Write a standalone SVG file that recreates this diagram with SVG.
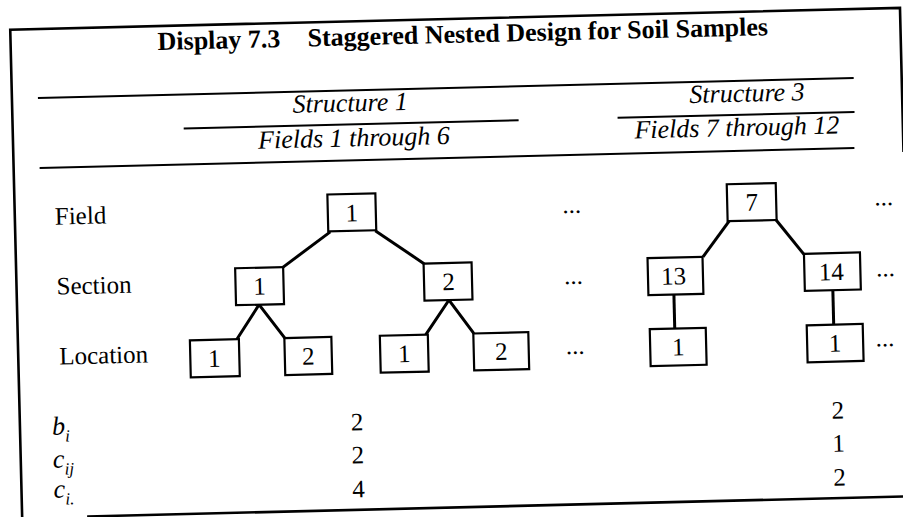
<svg xmlns="http://www.w3.org/2000/svg" width="903" height="517" viewBox="0 0 903 517">
  <style>
    .frame { stroke: #000; stroke-width: 2.6; fill: none; }
    .rule { stroke: #000; stroke-width: 2; fill: none; }
    .box { fill: #fff; stroke: #000; stroke-width: 2.2; }
    .edge { stroke: #000; stroke-width: 3; fill: none; }
    .t { font-family: "Liberation Serif", "Times New Roman", serif; font-size: 25px; fill: #000; }
    .num { text-anchor: middle; }
    .it { font-style: italic; font-size: 26px; }
    .title { font-weight: bold; font-size: 26px; }
    .sub { font-size: 17px; }
  </style>
  <rect width="903" height="517" fill="#fff"/>
  <g transform="rotate(-1.4 450 260)">
    <!-- outer frame -->
    <g id="frame">
      <path class="frame" d="M16 530 V19 H906 V163"/>
      <path class="frame" d="M81 507.5 H915"/>
    </g>

    <!-- heading -->
    <g id="heading">
      <text class="t title" x="163" y="43">Display 7.3</text>
      <text class="t title" x="313" y="43">Staggered Nested Design for Soil Samples</text>
    </g>

    <!-- table rules and column heads -->
    <g id="rules">
      <path class="rule" d="M42 88 H858"/>
      <path class="rule" d="M187 122 H522"/>
      <path class="rule" d="M621 122 H858"/>
      <path class="rule" d="M42 158 H857"/>
    </g>
    <g id="col-heads">
      <text class="t it num" x="354" y="109">Structure 1</text>
      <text class="t it num" x="357" y="144">Fields 1 through 6</text>
      <text class="t it num" x="751" y="109">Structure 3</text>
      <text class="t it num" x="740" y="143">Fields 7 through 12</text>
    </g>

    <!-- row labels -->
    <g id="row-labels">
      <text class="t" x="56" y="215">Field</text>
      <text class="t" x="56" y="285">Section</text>
      <text class="t" x="57" y="355">Location</text>
    </g>

    <!-- connectors -->
    <g id="connectors">
      <path class="edge" d="M331 229 L283 263"/>
      <path class="edge" d="M376 229 L424 263"/>
      <path class="edge" d="M235 334 L258 300 L283 334"/>
      <path class="edge" d="M424 334 L448 300 L472 334"/>
      <path class="edge" d="M730 228 L703 263"/>
      <path class="edge" d="M777 228 L804 263"/>
      <path class="edge" d="M673 300 V334"/>
      <path class="edge" d="M832 300 V334"/>
    </g>

    <!-- structure 1 -->
    <g id="s1-field-1">
      <rect class="box" x="329" y="191.5" width="48" height="37"/>
      <text class="t num" x="353" y="219">1</text>
    </g>
    <g id="s1-section-1">
      <rect class="box" x="235" y="263" width="48" height="37"/>
      <text class="t num" x="259" y="290">1</text>
    </g>
    <g id="s1-section-2">
      <rect class="box" x="423.5" y="263" width="48" height="37"/>
      <text class="t num" x="448" y="290">2</text>
    </g>
    <g id="s1-location-1">
      <rect class="box" x="188" y="334" width="49" height="37"/>
      <text class="t num" x="212" y="361">1</text>
    </g>
    <g id="s1-location-2">
      <rect class="box" x="282.5" y="334" width="47" height="37"/>
      <text class="t num" x="306" y="361">2</text>
    </g>
    <g id="s1-location-3">
      <rect class="box" x="378" y="334" width="48" height="37"/>
      <text class="t num" x="402" y="361">1</text>
    </g>
    <g id="s1-location-4">
      <rect class="box" x="471.5" y="334" width="55" height="37"/>
      <text class="t num" x="499" y="361">2</text>
    </g>

    <!-- structure 3 -->
    <g id="s3-field-7">
      <rect class="box" x="728.5" y="191" width="49" height="37"/>
      <text class="t num" x="753" y="218">7</text>
    </g>
    <g id="s3-section-13">
      <rect class="box" x="647.5" y="263" width="55" height="37"/>
      <text class="t num" x="673" y="290">13</text>
    </g>
    <g id="s3-section-14">
      <rect class="box" x="804" y="262.5" width="56" height="37"/>
      <text class="t num" x="831" y="289.5">14</text>
    </g>
    <g id="s3-location-13-1">
      <rect class="box" x="648" y="334" width="56" height="37"/>
      <text class="t num" x="676" y="361">1</text>
    </g>
    <g id="s3-location-14-1">
      <rect class="box" x="805" y="334" width="56" height="37"/>
      <text class="t num" x="833" y="361">1</text>
    </g>

    <!-- continuation marks -->
    <g id="ellipses">
      <text class="t num" x="573" y="216">...</text>
      <text class="t num" x="573" y="287">...</text>
      <text class="t num" x="573" y="357">...</text>
      <text class="t num" x="885" y="216">...</text>
      <text class="t num" x="885" y="287">...</text>
      <text class="t num" x="883" y="357">...</text>
    </g>

    <!-- counts -->
    <g id="counts">
      <text class="t it" x="48" y="425">b<tspan class="sub" dy="7">i</tspan></text>
      <text class="t it" x="48" y="458">c<tspan class="sub" dy="7">ij</tspan></text>
      <text class="t it" x="48" y="488">c<tspan class="sub" dy="7">i.</tspan></text>
      <text class="t num" x="353" y="428">2</text>
      <text class="t num" x="353" y="461">2</text>
      <text class="t num" x="353" y="495">4</text>
      <text class="t num" x="834" y="428">2</text>
      <text class="t num" x="834" y="461">1</text>
      <text class="t num" x="834" y="495">2</text>
    </g>
  </g>
</svg>
